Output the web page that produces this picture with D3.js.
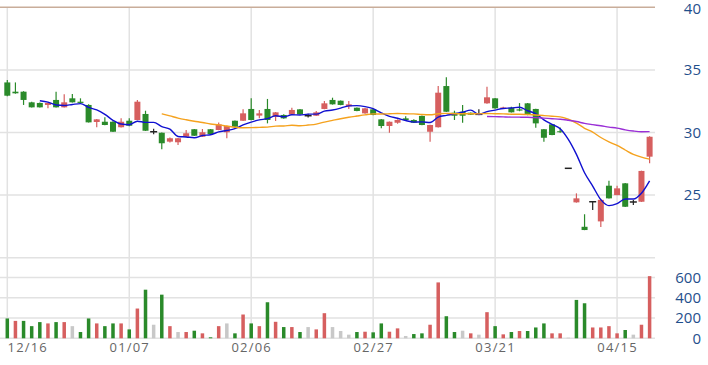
<!DOCTYPE html>
<html><head><meta charset="utf-8">
<script src="https://cdn.jsdelivr.net/npm/d3@7"></script>
<style>html,body{margin:0;padding:0;background:#fff;}svg{display:block;}</style>
</head><body>
<svg id="c" width="708" height="365"></svg>
<script>
// ---- data ----
const opens  = [34.0,33.26,33.26,32.41,32.36,32.2,32.6,32.01,32.73,32.46,32.2,30.84,30.86,30.86,30.42,30.94,31.0,31.48,30.06,29.98,29.27,29.22,29.66,30.26,29.66,30.26,30.2,30.02,30.94,30.94,31.88,31.35,31.88,31.26,31.4,31.45,31.85,31.34,31.34,31.88,32.6,32.54,32.09,31.98,31.53,31.85,31.05,30.52,30.78,31.13,31.0,31.32,30.06,30.42,33.71,31.58,31.66,31.58,31.45,32.33,32.73,31.95,31.98,31.85,32.33,31.88,30.26,30.65,30.1,27.14,24.42,22.47,24.47,22.9,25.75,25.0,25.94,24.45,24.47,28.07];
const highs  = [34.2,34.0,33.3,32.45,32.4,32.4,33.26,33.05,33.07,32.73,32.25,31.08,31.21,30.9,31.13,31.13,32.6,31.74,30.3,30.0,29.6,29.56,30.2,30.28,30.28,30.28,30.8,30.54,30.96,31.85,32.73,31.8,32.68,31.63,31.45,31.98,31.88,31.5,31.72,32.52,32.78,32.56,32.52,32.0,31.95,31.88,31.08,30.88,31.05,31.3,31.05,31.35,30.62,33.71,34.41,31.74,32.2,31.6,31.85,33.66,32.76,32.05,32.05,32.35,32.35,31.9,30.28,30.67,30.4,27.14,25.14,23.47,24.47,24.7,26.15,25.75,25.96,24.6,26.95,29.7];
const lows   = [32.9,33.1,32.2,32.0,32.0,31.93,32.0,32.0,32.4,32.3,30.8,30.42,30.58,30.04,30.4,30.5,30.98,30.12,29.86,28.66,29.2,29.0,29.64,29.72,29.64,29.86,30.18,29.54,30.44,30.92,30.98,31.13,30.73,30.92,31.1,31.43,31.43,31.2,31.32,31.86,32.23,32.18,31.88,31.7,31.5,31.38,30.34,29.98,30.7,30.98,30.76,30.58,29.26,30.4,31.64,31.0,30.78,31.4,31.45,32.3,31.9,31.9,31.6,31.7,31.38,30.38,29.26,29.78,29.98,27.14,24.4,22.2,23.8,22.45,24.72,24.98,24.05,24.2,24.45,27.54];
const closes = [32.94,33.13,32.6,32.01,32.01,32.36,32.01,32.41,32.41,32.36,30.81,31.05,30.6,30.06,30.86,30.54,32.46,30.14,30.06,29.14,29.54,29.54,29.94,29.74,30.02,29.88,30.65,30.52,30.46,31.53,31.0,31.53,31.0,31.61,31.13,31.8,31.45,31.34,31.61,32.33,32.25,32.2,32.25,31.72,31.93,31.4,30.52,30.86,31.0,31.0,30.78,30.6,30.6,33.18,31.66,31.34,31.34,31.42,31.45,32.81,31.93,32.0,31.61,31.75,31.4,30.73,29.58,29.8,30.02,27.14,24.74,22.21,24.47,24.62,24.74,25.54,24.07,24.45,26.93,29.66];
const volumes = [196,172,172,120,160,147,160,160,120,62,196,147,120,147,147,88,294,480,134,431,120,62,62,75,49,10,120,147,49,235,147,120,356,163,111,111,62,111,88,248,111,72,36,62,65,59,147,65,98,23,42,49,134,552,218,62,75,49,36,258,120,39,62,72,72,107,147,49,49,6,379,346,107,107,120,49,82,36,134,614];
const volDir = ['d','u','d','d','d','u','d','u','n','d','d','u','d','d','u','d','u','d','n','d','u','n','u','d','u','d','u','n','d','u','d','u','d','u','d','u','d','n','u','u','n','n','n','d','u','d','d','u','u','n','d','d','u','u','d','d','n','u','n','u','d','u','d','u','d','d','d','u','u','n','d','d','u','u','u','u','d','n','u','u'];
const dateLabels = ['12/16','01/07','02/06','02/27','03/21','04/15'];
const dateIndex  = [0,15,30,45,60,75];
const priceTicks = [25,30,35,40];
const volTicks   = [0,200,400,600];
const maPeriods  = [5,20,60];

// ---- drawing ----
const svg = d3.select('#c');
const N = closes.length;
const RED = '#d65f5f', GREEN = '#2a8a2a', GRAY = '#c8c8c8', BLACK = '#222';
const x  = d3.scaleLinear().domain([0, N-1]).range([7.3, 649.6]);
const y  = d3.scaleLinear().domain([20, 40]).range([257.7, 7.3]);
const yv = d3.scaleLinear().domain([0, 800]).range([338.3, 257.3]);
const plotRight = 655;

const grid = svg.append('g');
[20,25,30,35].forEach(v => grid.append('line').attr('x1',0).attr('x2',plotRight)
  .attr('y1',y(v)).attr('y2',y(v)).attr('stroke','#e2e2e2').attr('stroke-width',1.5));
volTicks.forEach(v => grid.append('line').attr('x1',0).attr('x2',plotRight)
  .attr('y1',yv(v)).attr('y2',yv(v)).attr('stroke','#e2e2e2').attr('stroke-width',1.5));
dateIndex.forEach(i => grid.append('line').attr('x1',x(i)).attr('x2',x(i))
  .attr('y1',y(40)).attr('y2',yv(0)).attr('stroke','#e2e2e2').attr('stroke-width',1.5));
grid.append('line').attr('x1',0).attr('x2',plotRight).attr('y1',y(40)).attr('y2',y(40))
  .attr('stroke','#c9ad9a').attr('stroke-width',1.5);

// volume bars
svg.append('g').selectAll('rect').data(volumes).join('rect')
  .attr('x',(d,i)=>x(i)-1.75).attr('width',3.5)
  .attr('y',d=>yv(d)).attr('height',d=>yv(0)-yv(d))
  .attr('fill',(d,i)=>volDir[i]==='u'?RED:volDir[i]==='d'?GREEN:GRAY);

// candles
const idx = d3.range(N);
const cg = svg.append('g');
const col = i => closes[i]>opens[i]?RED:closes[i]<opens[i]?GREEN:BLACK;
cg.selectAll('line.w').data(idx).join('line')
  .attr('x1',i=>x(i)).attr('x2',i=>x(i))
  .attr('y1',i=>y(highs[i])).attr('y2',i=>y(lows[i]))
  .attr('stroke',col).attr('stroke-width',1.2);
cg.selectAll('rect').data(idx.filter(i=>opens[i]!==closes[i])).join('rect')
  .attr('x',i=>x(i)-3).attr('width',6)
  .attr('y',i=>y(Math.max(opens[i],closes[i])))
  .attr('height',i=>Math.max(1,Math.abs(y(opens[i])-y(closes[i]))))
  .attr('fill',col);
cg.selectAll('line.d').data(idx.filter(i=>opens[i]===closes[i])).join('line')
  .attr('x1',i=>x(i)-3.5).attr('x2',i=>x(i)+3.5)
  .attr('y1',i=>y(closes[i])).attr('y2',i=>y(closes[i]))
  .attr('stroke',BLACK).attr('stroke-width',1.5);

// moving averages
const maColors = ['#1010d0','#f5a21e','#9a2fd6'];
maPeriods.forEach((p,k) => {
  const pts = [];
  for (let i=p-1;i<N;i++) pts.push([i, d3.mean(closes.slice(i-p+1,i+1))]);
  svg.append('path').datum(pts)
    .attr('d', d3.line().x(d=>x(d[0])).y(d=>y(d[1])).curve(d3.curveMonotoneX))
    .attr('fill','none').attr('stroke',maColors[k]).attr('stroke-width',1.4);
});

// right axes
const fontAx = '"Open Sans", sans-serif';
const ap = svg.append('g').attr('transform','translate(701,0)')
  .call(d3.axisRight(y).tickValues(priceTicks).tickSize(0).tickPadding(0));
const av = svg.append('g').attr('transform','translate(701,0)')
  .call(d3.axisRight(yv).tickValues(volTicks).tickSize(0).tickPadding(0));
[ap,av].forEach(a => {
  a.select('.domain').remove();
  a.selectAll('text').attr('x',0).attr('text-anchor','end')
    .attr('fill','#1f4f8c').style('font-family',fontAx).style('font-size','15px');
});
ap.selectAll('text').filter(d=>d===40).attr('dy','0.42em');

// date axis
const ad = svg.append('g').attr('transform','translate(0,343)')
  .call(d3.axisBottom(x).tickValues(dateIndex).tickSize(0).tickPadding(0)
    .tickFormat((d,i)=>dateLabels[i]));
ad.select('.domain').remove();
ad.selectAll('text').attr('fill','#666').attr('dy','0.71em')
  .style('font-family',fontAx).style('font-size','13px').style('letter-spacing','1.2px');
ad.selectAll('text').filter((d,i)=>i===0).attr('text-anchor','start').attr('x',-0.3);
</script>
</body></html>
